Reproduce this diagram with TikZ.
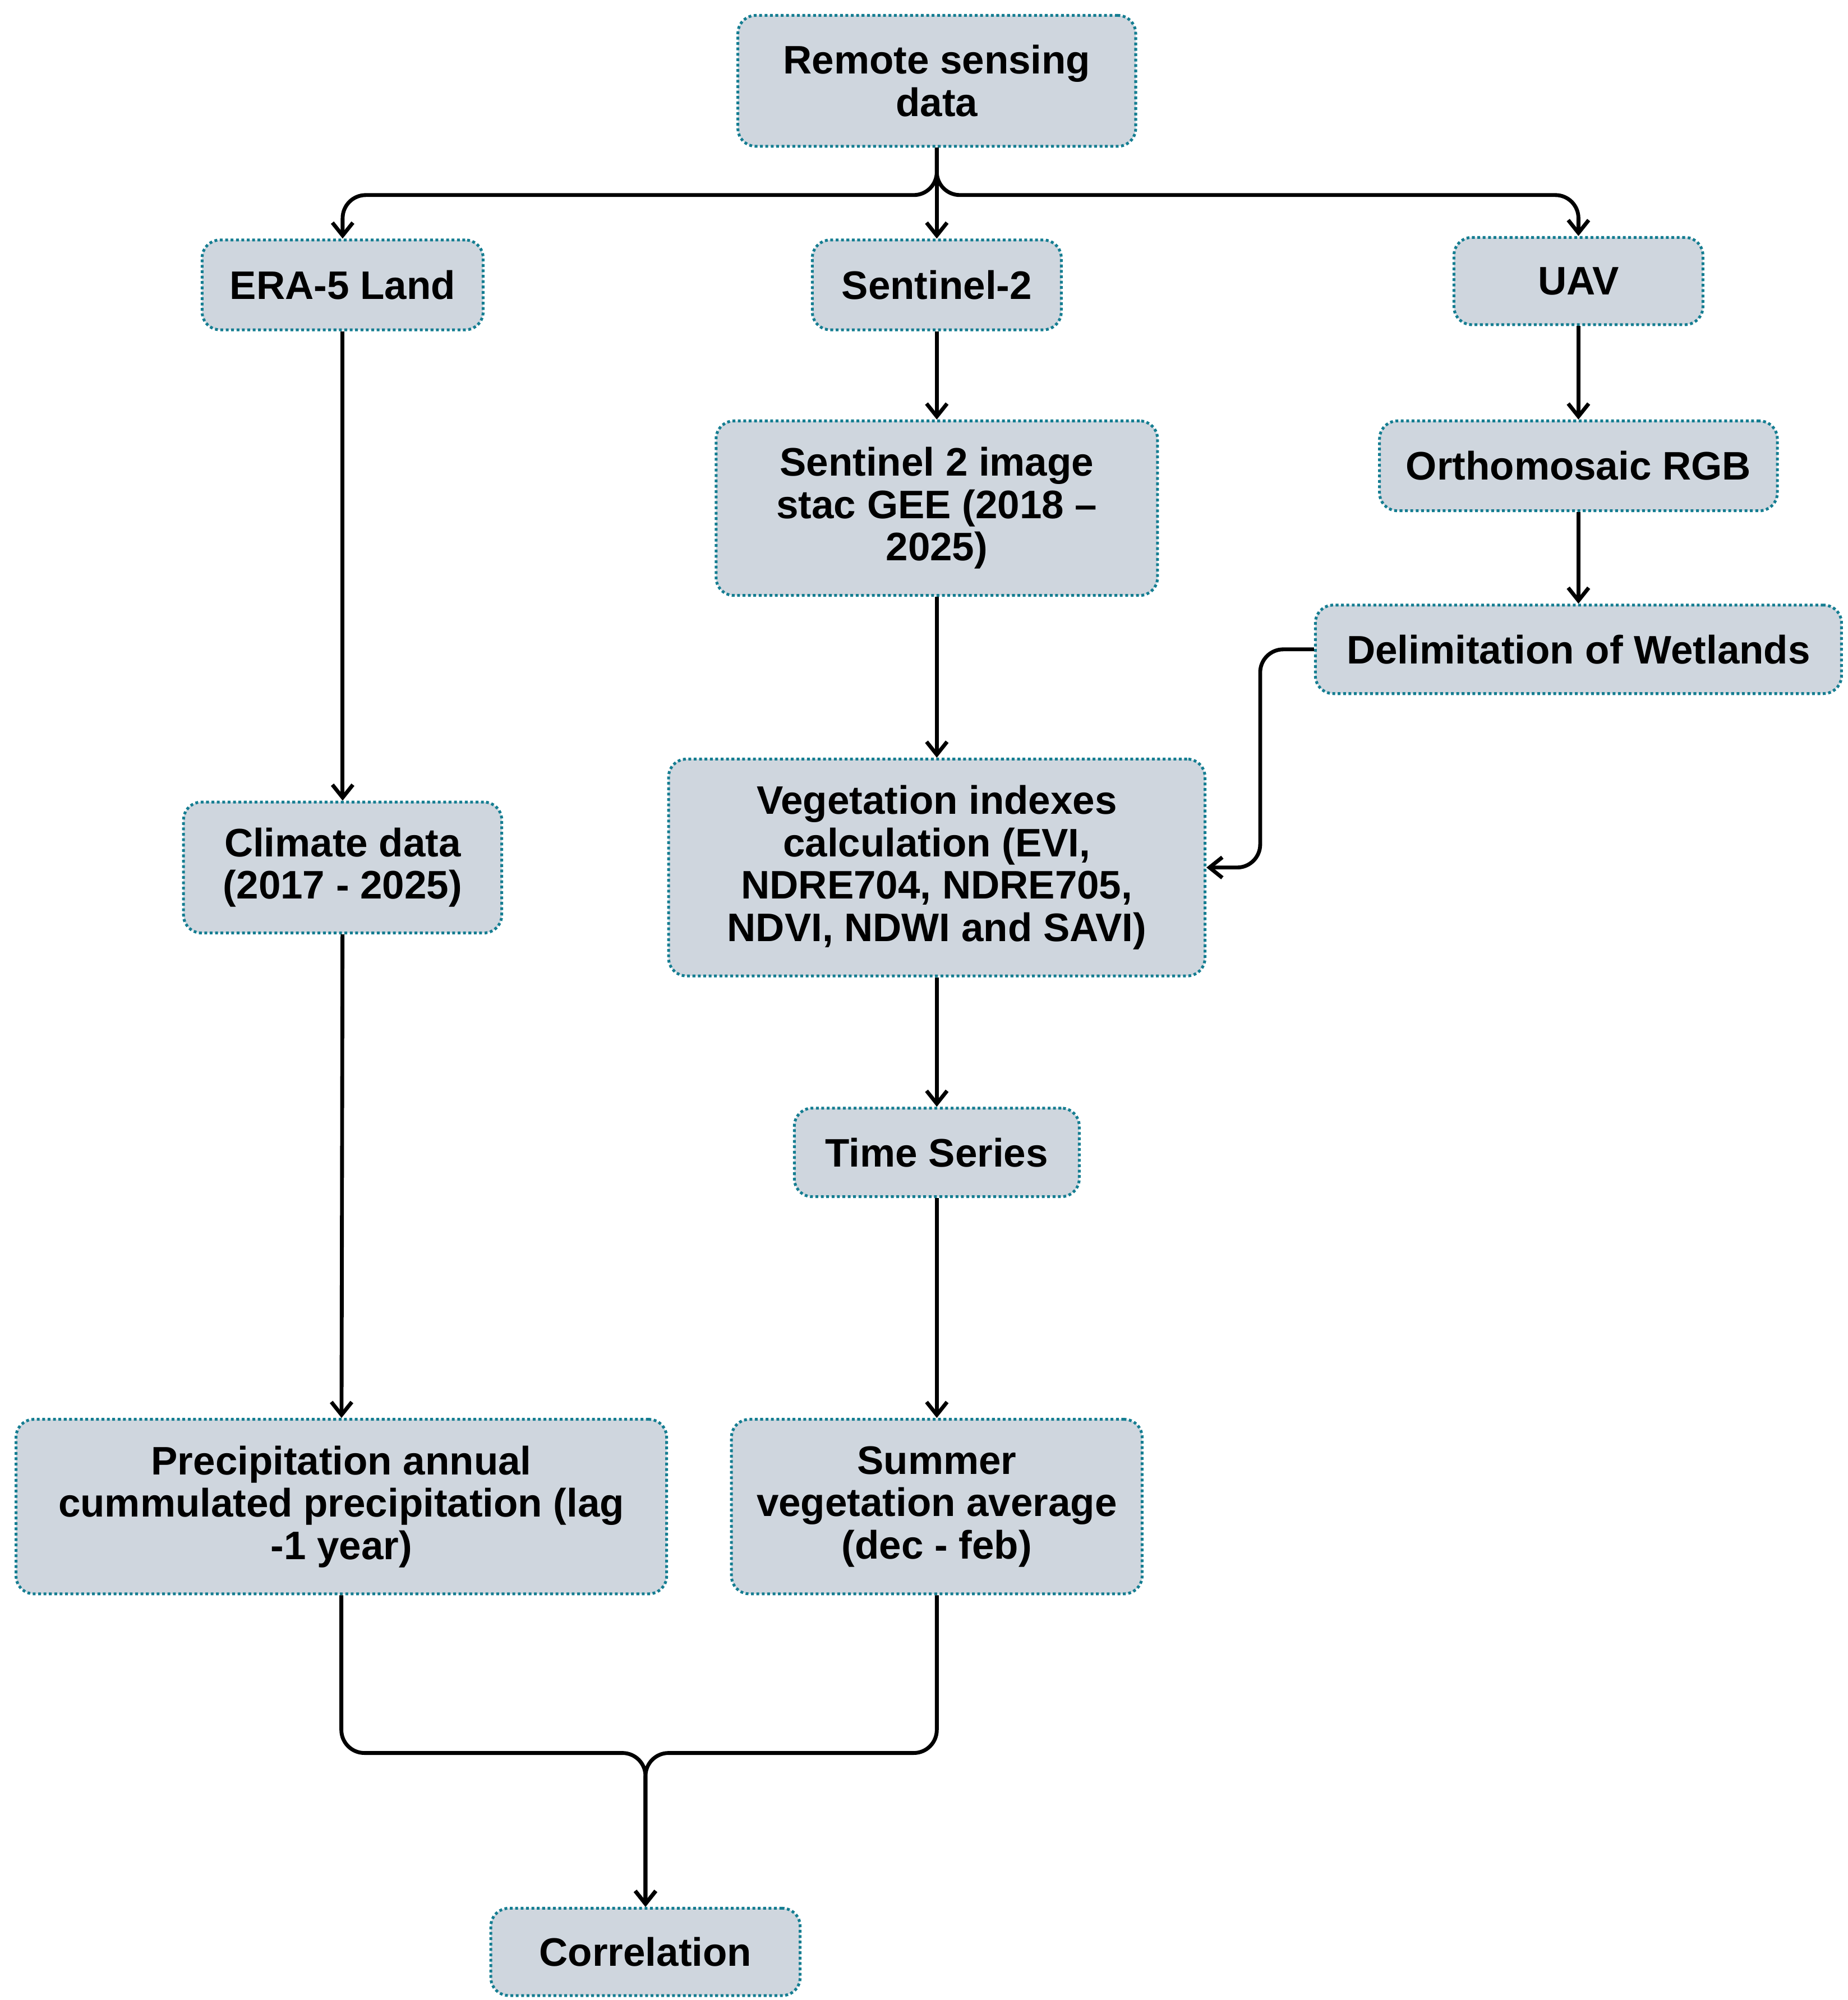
\documentclass[tikz,border=0pt]{standalone}
\usepackage{fontspec}
\setmainfont{Liberation Sans}
\usetikzlibrary{arrows.meta}
\definecolor{boxfill}{RGB}{207,214,222}
\definecolor{boxline}{RGB}{20,125,145}
\tikzset{
		flowbox/.style={draw=boxline,fill=boxfill,densely dotted,line width=1.1pt,rounded corners=7pt,
			align=center,font=\fontsize{15.5}{16.5}\selectfont\bfseries,inner sep=2pt},
		link/.style={line width=1.5pt,-{Straight Barb[length=5pt,width=8pt,line width=1.5pt]},rounded corners=9pt},
		}
\begin{document}
\begin{tikzpicture}[x=0.5pt,y=-0.5pt]
					\useasboundingbox (0,0) rectangle (1440,1558.5);
					%NODES top row
					\node[flowbox,minimum width=155pt,minimum height=51pt](rs) at (730,63){Remote sensing\\data};
					\node[flowbox,minimum width=109.5pt,minimum height=35pt](era) at (267,222){ERA-5 Land};
					\node[flowbox,minimum width=97pt,minimum height=35pt](s2) at (730,222){Sentinel-2};
					\node[flowbox,minimum width=97pt,minimum height=34pt](uav) at (1230,219){UAV};
					%NODES Sentinel column
					\node[flowbox,minimum width=172pt,minimum height=68pt](stac) at (730,396){Sentinel 2 image\\stac GEE (2018 --\\2025)};
					\node[flowbox,minimum width=209pt,minimum height=84.5pt](veg) at (730,676){Vegetation indexes\\calculation (EVI,\\NDRE704, NDRE705,\\NDVI, NDWI and SAVI)};
					\node[flowbox,minimum width=111pt,minimum height=34.5pt](ts) at (730,898){Time Series};
					\node[flowbox,minimum width=160pt,minimum height=68pt](summer) at (730,1174){Summer\\vegetation average\\(dec - feb)};
					%NODES UAV column
					\node[flowbox,minimum width=155pt,minimum height=35pt](ortho) at (1230,363){Orthomosaic RGB};
					\node[flowbox,minimum width=205pt,minimum height=34.5pt](delim) at (1230,506){Delimitation of Wetlands};
					%NODES ERA column
					\node[flowbox,minimum width=124pt,minimum height=51pt](clim) at (267,676){Climate data\\(2017 - 2025)};
					\node[flowbox,minimum width=253.5pt,minimum height=68pt](precip) at (266,1174){Precipitation annual\\cummulated precipitation (lag\\-1 year)};
					\node[flowbox,minimum width=120.5pt,minimum height=34pt](corr) at (503,1521){Correlation};
					%PATHS
					\draw[link] (rs.south) -- (730,152) -- (267,152) -- (era.north);
					\draw[link] (rs.south) -- (s2.north);
					\draw[link] (rs.south) -- (730,152) -- (1230,152) -- (uav.north);
					\draw[link] (era) -- (clim);
					\draw[link] (clim) -- (precip);
					\draw[link] (s2) -- (stac);
					\draw[link] (stac) -- (veg);
					\draw[link] (veg) -- (ts);
					\draw[link] (ts) -- (summer);
					\draw[link] (uav) -- (ortho);
					\draw[link] (ortho) -- (delim);
					\draw[link] (delim.west) -- (982,506) -- (982,676) -- (veg.east);
					\draw[link] (precip.south) -- (266,1366) -- (503,1366) -- (corr.north);
					\draw[link] (summer.south) -- (730,1366) -- (503,1366) -- (corr.north);
				\end{tikzpicture}
\end{document}
